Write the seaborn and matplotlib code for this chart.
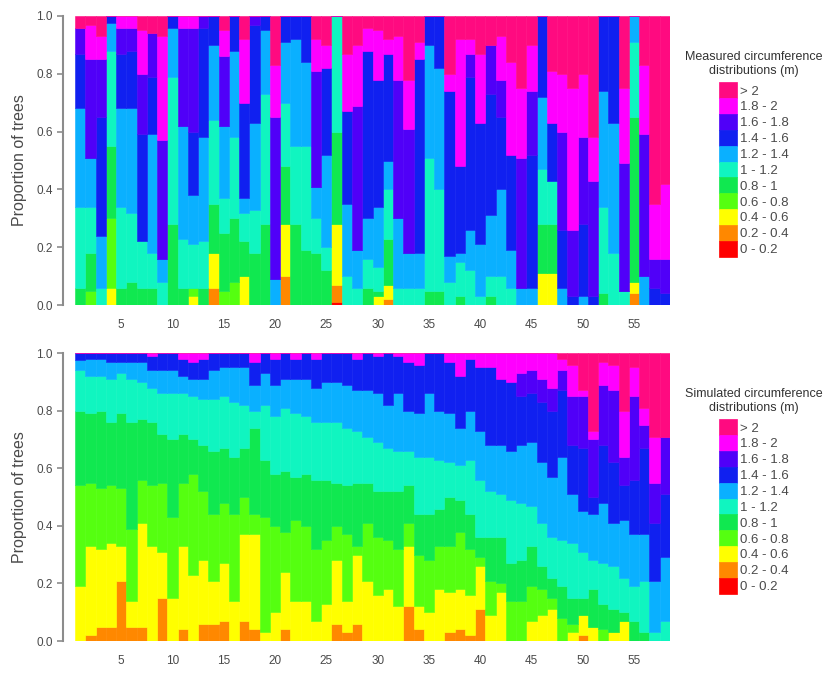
import numpy as np
import pandas as pd
import matplotlib
matplotlib.use("Agg")
import matplotlib.pyplot as plt
from matplotlib.patches import Patch
import seaborn as sns

sns.set_theme(style="white")
plt.rcParams["font.family"] = ["Liberation Sans", "DejaVu Sans"]

# ---------------- data ----------------
trees = list(range(1, 59))
classes = ["0 - 0.2", "0.2 - 0.4", "0.4 - 0.6", "0.6 - 0.8", "0.8 - 1", "1 - 1.2",
           "1.2 - 1.4", "1.4 - 1.6", "1.6 - 1.8", "1.8 - 2", "> 2"]
class_colors = ["#ff0000", "#ff8800", "#ffff00", "#55ff10", "#10e850", "#10f5c0",
                "#0ab0ff", "#1020f0", "#5000f8", "#ff00ff", "#ff0a80"]
x_ticks = [5, 10, 15, 20, 25, 30, 35, 40, 45, 50, 55]
y_ticks = [0.0, 0.2, 0.4, 0.6, 0.8, 1.0]

# Measured distributions (percent of trees per class, one value per plot 1..58)
m_red = [0,0,0,0,0,0,0,0,0,0, 0,0,0,0,0,0,0,0,0,0, 0,0,0,0,0,1,0,0,0,0, 0,0,0,0,0,0,0,0,0,0, 0,0,0,0,0,0,0,0,0,0, 0,0,0,0,0,0,0,0]
m_orange = [0,0,0,0,0,0,0,0,0,0, 0,0,0,6,0,0,0,0,0,0, 10,0,0,0,0,6,0,0,0,0, 2,0,0,0,0,0,0,0,0,0, 0,0,0,0,0,0,0,0,0,0, 0,0,0,0,4,0,0,0]
m_yellow = [0,0,0,6,0,0,0,0,0,0, 0,3,0,12,0,0,10,0,0,0, 18,0,0,0,0,21,0,0,0,3, 5,0,0,0,0,0,0,0,0,0, 0,0,0,0,0,11,11,0,0,0, 0,0,0,0,4,0,0,0]
m_lime = [0,5,0,24,0,0,0,0,0,0, 0,3,0,0,5,8,0,0,0,0, 0,0,0,0,0,0,0,0,0,0, 0,0,0,0,0,0,0,0,0,0, 0,0,0,0,0,0,0,0,0,0, 0,0,0,0,0,0,0,0]
m_green = [6,13,0,25,6,8,6,6,0,28, 6,0,6,17,20,22,12,18,28,0, 20,28,19,18,12,32,0,0,6,2, 16,0,0,0,5,5,0,3,0,0, 3,0,0,0,0,17,17,0,0,0, 0,4,0,0,57,0,0,0]
m_aqua = [28,16,6,33,28,24,16,12,8,51, 17,15,16,29,12,28,10,15,45,0, 22,27,36,12,8,40,10,6,10,8, 17,6,6,6,46,35,8,12,12,3, 7,10,6,0,0,19,15,0,0,0, 0,30,18,5,26,0,0,0]
m_sky = [34,17,18,9.5,34,36,0,41,8,17, 39,17,36,26,25,30,5,30,22,9, 21,37,29,11,32,0,25,13,14,21, 10,24,12,12,39,42,9,3,14,18, 21,30,13,6,6,25,0,6,0,3, 0,40,45,0,9,10,0,0]
m_blue = [19,0,41,2.5,19,20,37,20,0,4, 0,22,38,10,0,12,33,34,5,0, 9,8,16,0,30,0,32,0,58,44, 37,0,0,67,10,18,57,30,53,42, 42,25,33,0,46,28,20,20,3,25, 3,26,37,0,0,0,6,4]
m_violet = [9,34,20,0,9,8,21,15,41,0, 34,36,4,0,24,0,0,3,0,56, 0,0,0,40,0,0,0,50,0,0, 0,48,43,0,0,0,0,0,8,0, 17,13,0,45,22,0,0,34,23,30, 40,0,0,44,0,49,10,12]
m_magenta = [0,12,8,0,4,4,15,0,36,0, 4,4,0,0,9,0,22,0,0,18, 0,0,0,11,8,0,20,21,8,17, 5,15,17,6,0,0,6,44,5,24, 0,15,32,24,16,0,18,20,49,22, 15,0,0,26,0,24,19,26]
m_pink = [4,3,7,0,0,0,5,6,7,0, 0,0,0,0,5,0,8,0,0,17, 0,0,0,8,10,0,13,10,4,5, 8,7,22,9,0,0,20,8,8,13, 10,7,16,25,10,0,19,20,25,20, 42,0,0,25,0,17,65,58]

# Simulated distributions
s_red = [0] * 58
s_orange = [0,2,5,5,21,5,5,0,15,0, 4,0,6,6,7,0,7,4,0,0, 4,0,0,0,0,6,3,6,0,0, 0,0,12,4,0,0,3,4,2,11, 0,0,0,0,0,0,0,0,0,2, 0,0,0,0,0,0,0,0]
s_yellow = [19,31,27,29,12,9,36,33,16,15, 29,23,22,15,20,14,30,33,3,10, 20,14,14,7,13,22,11,24,21,16, 18,12,21,8,10,18,14,14,14,15, 9,17,0,0,7,9,11,0,3,7, 5,0,3,7,0,0,0,0]
s_lime = [35,22,21,20,20,25,15,21,24,28, 22,35,24,23,21,30,13,7,40,30, 14,28,26,25,22,12,23,3,20,20, 17,20,8,18,18,15,16,20,16,3, 12,3,14,14,12,9,4,8,3,0, 0,4,0,0,0,0,0,0]
s_green = [26,24,27,22,26,37,21,22,17,27, 17,12,16,22,19,20,17,30,20,18, 21,15,18,24,21,15,17,22,14,16, 17,20,13,14,16,13,17,11,12,7, 15,16,13,14,14,8,7,11,9,6, 13,9,8,3,7,3,0,0]
s_aqua = [14,13,12,15,14,15,13,12,14,16, 14,15,16,18,18,19,15,6,19,20, 22,22,20,20,20,21,20,18,16,17, 15,14,12,20,20,17,12,12,19,20, 16,15,22,20,14,15,14,16,19,16, 10,14,15,12,12,18,3,7]
s_sky = [3.5,6,6,6,4,6,7,6,8,8, 6,6,7,10,10,12,13,9,11,11, 10,12,13,12,14,14,15,14,16,17, 15,20,14,15,22,17,17,13,17,17, 16,17,17,20,22,21,21,29,17,14, 16,21,15,20,18,16,18,22]
s_blue = [2.5,2,2,3,3,3,3,5,6,6, 6,6,7,6,5,5,5,8,7,9, 9,7,9,10,10,10,11,11,13,13, 18,13,17,17,14,20,18,18,18,22, 27,23,24,17,17,21,23,23,17,22, 6,20,21,12,19,30,20,22]
s_violet = [0,0,0,0,0,0,0,0,0,0, 0,0,0,0,0,0,0,0,0,0, 0,0,0,0,0,0,0,0,0,0, 0,0,0,0,0,0,0,0,0,0, 0,0,0,8,8,8,8,7,17,18, 20,21,25,10,29,8,14,20]
s_magenta = [0,0,0,0,0,0,0,1,0,0, 2,3,2,0,0,0,0,3,0,2, 0,2,0,2,0,0,0,2,0,1, 0,1,3,4,0,0,3,8,2,5, 5,9,10,7,6,9,12,4,11,2, 3,8,9,16,10,6,16,0]
s_pink = [0,0,0,0,0,0,0,0,0,0, 0,0,0,0,0,0,0,0,0,0, 0,0,0,0,0,0,0,0,0,0, 0,0,0,0,0,0,0,0,0,0, 0,0,0,0,0,0,0,2,4,13, 27,3,4,20,5,19,29,29]

measured = [m_red, m_orange, m_yellow, m_lime, m_green, m_aqua, m_sky, m_blue, m_violet, m_magenta, m_pink]
simulated = [s_red, s_orange, s_yellow, s_lime, s_green, s_aqua, s_sky, s_blue, s_violet, s_magenta, s_pink]


def long_table(series):
    rows = []
    for cls, vals in zip(classes, series):
        for t, v in zip(trees, vals):
            rows.append((t, cls, v))
    return pd.DataFrame(rows, columns=["tree", "cls", "val"])


palette = dict(zip(classes, class_colors))
stack_order = classes[::-1]  # first level ends on top in seaborn stacks

W, H = 830, 677
fig = plt.figure(figsize=(W / 100, H / 100), dpi=100)

panels = [
    (measured, (75, 16, 670, 305), "Measured circumference\ndistributions (m)", 51),
    (simulated, (75, 353, 670, 641), "Simulated circumference\ndistributions (m)", 388),
]

txt_col = "#4a4a4a"
for series, (x0, y0, x1, y1), ltitle, ly in panels:
    ax = fig.add_axes([x0 / W, 1 - y1 / H, (x1 - x0) / W, (y1 - y0) / H])
    df = long_table(series)
    sns.histplot(data=df, x="tree", weights="val", hue="cls", hue_order=stack_order,
                 palette=palette, multiple="fill", discrete=True, shrink=1,
                 edgecolor="none", linewidth=0.4, alpha=1, legend=False, ax=ax)
    for p in ax.patches:
        p.set_edgecolor(p.get_facecolor())
    ax.set_xlim(0.5, 58.5)
    ax.set_ylim(0, 1)
    ax.set_xticks(x_ticks)
    ax.set_yticks(y_ticks)
    ax.set_yticklabels([f"{v:.1f}" for v in y_ticks])
    ax.set_xlabel("")
    ax.set_ylabel("Proportion of trees", fontsize=11.5, color=txt_col, labelpad=7)
    for s in ["top", "right", "bottom"]:
        ax.spines[s].set_visible(False)
    ax.spines["left"].set_position(("outward", 9))
    ax.spines["left"].set_color("#8c8c8c")
    ax.spines["left"].set_linewidth(1.5)
    ax.tick_params(axis="y", left=True, length=4, width=1.2, color="#8c8c8c",
                   labelsize=8.5, labelcolor=txt_col, pad=3)
    ax.tick_params(axis="x", bottom=False, length=0, labelsize=8.5,
                   labelcolor=txt_col, pad=10)

    handles = [Patch(facecolor=palette[c], edgecolor=palette[c], linewidth=0.5, label=c)
               for c in stack_order]
    leg = ax.legend(handles=handles, title=ltitle, loc="upper center",
                    bbox_to_anchor=(754 / W, 1 - ly / H), bbox_transform=fig.transFigure,
                    frameon=False, fontsize=9.5, title_fontsize=9,
                    labelspacing=0, handlelength=1.3, handleheight=1.47,
                    handletextpad=0.25, borderpad=0, borderaxespad=0)
    leg.get_title().set_multialignment("center")
    leg.get_title().set_color("#333333")
    for t in leg.get_texts():
        t.set_color(txt_col)
    leg._legend_box.sep = 4

fig.savefig("out.png", dpi=100)
